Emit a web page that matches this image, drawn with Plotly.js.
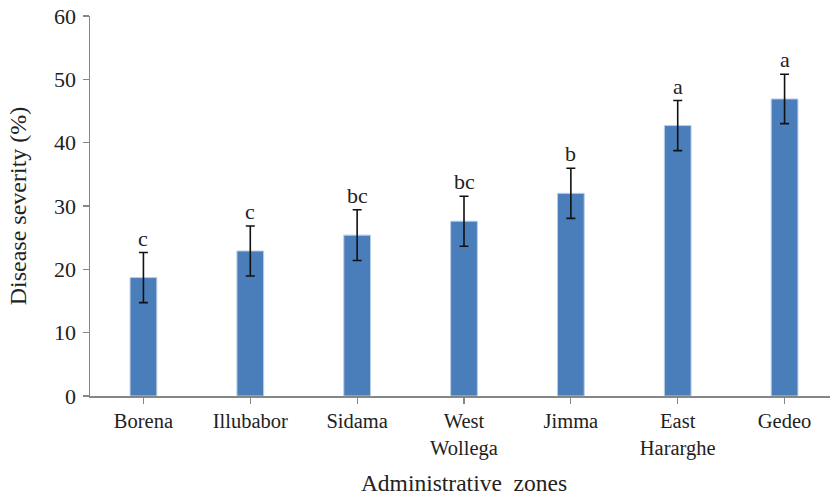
<!DOCTYPE html>
<html>
<head>
<meta charset="utf-8">
<script src="https://cdn.plot.ly/plotly-3.0.1.min.js"></script>
<style>
html,body{margin:0;padding:0;overflow:hidden;background:#fff;}
#chart{width:840px;height:496px;}
</style>
</head>
<body>
<div id="chart"></div>
<script>
const zones = ["Borena", "Illubabor", "Sidama", "West<br>Wollega", "Jimma", "East<br>Hararghe", "Gedeo"];
const severity = [18.7, 22.9, 25.4, 27.6, 32.0, 42.7, 46.9];
const stdErr = [3.95, 3.95, 4.0, 3.95, 3.95, 3.95, 3.9];
const letters = ["c", "c", "bc", "bc", "b", "a", "a"];
const yTicks = [0, 10, 20, 30, 40, 50, 60];

const font = "'Liberation Serif', 'Times New Roman', serif";

const trace = {
  type: "bar",
  x: zones,
  y: severity,
  marker: {color: "#4a7ebb", line: {color: "#b9cde6", width: 1}},
  width: 0.25,
  error_y: {type: "data", array: stdErr, visible: true, color: "#111", thickness: 1.6, width: 4.5},
  hoverinfo: "none"
};

const annotations = zones.map((z, i) => ({
  x: z, y: severity[i] + stdErr[i], xref: "x", yref: "y",
  text: letters[i], showarrow: false, yanchor: "bottom", yshift: 0,
  font: {family: font, size: 22, color: "#222"}
}));

const layout = {
  width: 840, height: 496,
  margin: {l: 90, r: 2, t: 16, b: 100},
  paper_bgcolor: "#fff", plot_bgcolor: "#fff",
  showlegend: false,
  font: {family: font, size: 22, color: "#222"},
  xaxis: {
    type: "category",
    showline: true, linecolor: "#868686", linewidth: 1.5,
    ticks: "outside", ticklen: 6, tickcolor: "#868686", tickwidth: 1.2,
    showgrid: false, zeroline: false, fixedrange: true,
    tickfont: {family: font, size: 20.5, color: "#222"},
    title: {text: "Administrative\u00a0 zones", font: {family: font, size: 23.5, color: "#222"}, standoff: 18}
  },
  yaxis: {
    range: [0, 60], tickvals: yTicks, ticktext: yTicks.map(String),
    showline: true, linecolor: "#868686", linewidth: 1.5,
    ticks: "outside", ticklen: 6, tickcolor: "#868686", tickwidth: 1.2,
    showgrid: false, zeroline: false, fixedrange: true,
    tickfont: {family: font, size: 22, color: "#222"},
    ticklabelstandoff: 2,
    title: {text: "Disease severity (%)", font: {family: font, size: 24, color: "#222"}, standoff: 20}
  },
  annotations: annotations
};

Plotly.newPlot("chart", [trace], layout, {displayModeBar: false, staticPlot: true});
</script>
</body>
</html>
